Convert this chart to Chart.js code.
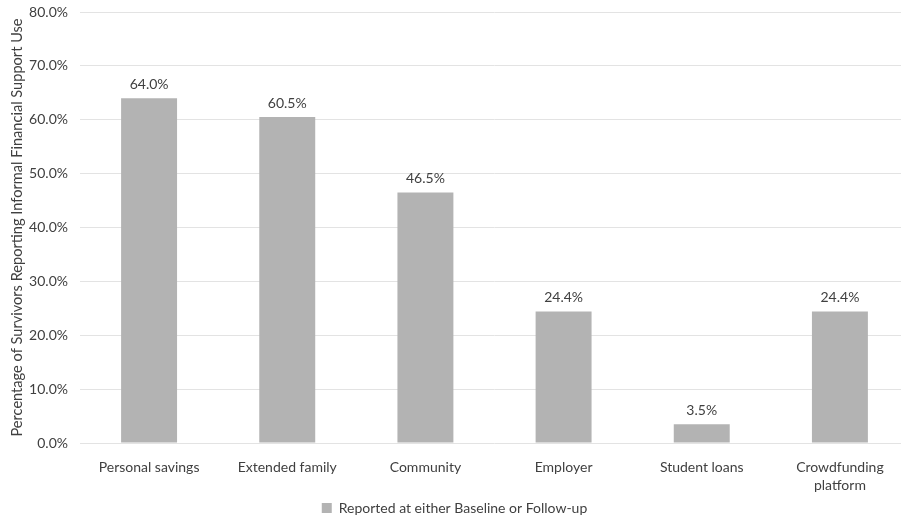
<!DOCTYPE html>
<html>
<head>
<meta charset="utf-8">
<script src="https://cdn.jsdelivr.net/npm/chart.js@4"></script>
<style>
html,body{margin:0;padding:0;background:#fff;overflow:hidden;}
#wrap{width:910px;height:525px;}
</style>
</head>
<body>
<div id="wrap"><canvas id="c" width="910" height="525"></canvas></div>
<script>
const categories = ["Personal savings", "Extended family", "Community", "Employer", "Student loans", ["Crowdfunding", "platform"]];
const values = [64.0, 60.5, 46.5, 24.4, 3.5, 24.4];
const seriesName = "Reported at either Baseline or Follow-up";
const yTitle = "Percentage of Survivors Reporting Informal Financial Support Use";

const FONT = "Lato, 'Open Sans', sans-serif";
const TXT = "#404040";

const dataLabels = {
  id: "dataLabels",
  afterDatasetsDraw(chart) {
    const ctx = chart.ctx;
    const meta = chart.getDatasetMeta(0);
    ctx.save();
    ctx.font = "14px " + FONT;
    ctx.fillStyle = TXT;
    ctx.textAlign = "center";
    ctx.textBaseline = "middle";
    meta.data.forEach((bar, i) => {
      ctx.fillText(values[i].toFixed(1) + "%", bar.x, bar.y - 14);
    });
    ctx.restore();
  }
};

new Chart(document.getElementById("c"), {
  type: "bar",
  data: {
    labels: categories,
    datasets: [{
      label: seriesName,
      data: values,
      backgroundColor: "#b3b3b3",
      barPercentage: 0.405,
      categoryPercentage: 1.0
    }]
  },
  options: {
    responsive: false,
    animation: false,
    layout: { padding: { top: 12, right: 1, left: 0, bottom: 0 } },
    plugins: {
      legend: {
        position: "bottom",
        labels: {
          color: TXT,
          font: { family: FONT, size: 14 },
          boxWidth: 10,
          boxHeight: 10,
          padding: 8
        }
      },
      tooltip: { enabled: false }
    },
    scales: {
      x: {
        grid: { display: false },
        border: { display: false },
        ticks: { color: TXT, font: { family: FONT, size: 14, lineHeight: 1.25 }, padding: 8, maxRotation: 0, autoSkip: false },
        afterFit(scale) { scale.height = 50; scale.paddingLeft = 0; scale.paddingRight = 0; }
      },
      y: {
        min: 0,
        max: 80,
        ticks: {
          stepSize: 10,
          color: TXT,
          font: { family: FONT, size: 14 },
          padding: 12,
          callback: v => v.toFixed(1) + "%"
        },
        grid: { color: "#e3e3e3", lineWidth: 1, drawTicks: false },
        border: { display: false },
        title: {
          display: true,
          text: yTitle,
          color: TXT,
          font: { family: FONT, size: 14.6 },
          padding: { top: 9, bottom: 0 }
        },
        afterFit(scale) { scale.width = 80; scale.paddingTop = 0; scale.paddingBottom = 0; }
      }
    }
  },
  plugins: [dataLabels]
});
</script>
</body>
</html>
